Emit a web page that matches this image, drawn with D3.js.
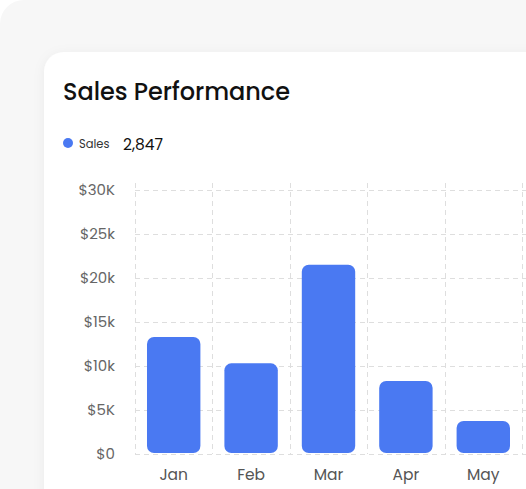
<!DOCTYPE html>
<html>
<head>
<meta charset="utf-8">
<script src="https://cdn.jsdelivr.net/npm/d3@7"></script>
<style>
  body { margin: 0; background: #fff; }
  svg { display: block; font-family: Poppins, Inter, "Noto Sans", sans-serif; }
</style>
</head>
<body>
<svg width="526" height="489"></svg>
<script>
// data
var months = ["Jan", "Feb", "Mar", "Apr", "May"];
var sales = [13300, 10300, 21500, 8300, 3750];
var yTicks = [0, 5000, 10000, 15000, 20000, 25000, 30000];
var yTickLabels = ["$0", "$5K", "$10k", "$15k", "$20k", "$25k", "$30K"];
var legendLabel = "Sales";
var legendTotal = "2,847";

var svg = d3.select("svg");

// shadow for the card
var defs = svg.append("defs");
var f = defs.append("filter").attr("id", "shadow")
    .attr("x", "-10%").attr("y", "-10%").attr("width", "130%").attr("height", "130%");
f.append("feDropShadow").attr("dx", 0).attr("dy", 2).attr("stdDeviation", 6)
    .attr("flood-color", "#000").attr("flood-opacity", 0.05);

// background panel + card
svg.append("rect").attr("x", 0).attr("y", 0).attr("width", 560).attr("height", 540)
    .attr("rx", 24).attr("fill", "#f7f7f7");
svg.append("rect").attr("x", 44).attr("y", 52).attr("width", 540).attr("height", 500)
    .attr("rx", 20).attr("fill", "#fff").attr("filter", "url(#shadow)");

// title
svg.append("text").attr("x", 63).attr("y", 100)
    .attr("font-size", 24).attr("font-weight", 500).attr("fill", "#111")
    .attr("textLength", 227).attr("lengthAdjust", "spacing")
    .text("Sales Performance");

// legend
svg.append("circle").attr("cx", 68).attr("cy", 143).attr("r", 5).attr("fill", "#4a79f2");
svg.append("text").attr("x", 79).attr("y", 147.5)
    .attr("font-size", 11.5).attr("fill", "#333").text(legendLabel);
svg.append("text").attr("x", 123).attr("y", 150)
    .attr("font-size", 15.5).attr("fill", "#111").text(legendTotal);

// scales
var x = d3.scaleBand()
    .domain(months)
    .range([135, 522])
    .paddingInner(0.31)
    .paddingOuter(0.155);

var y = d3.scaleLinear()
    .domain([0, 30000])
    .range([454, 190]);

// grid
var grid = svg.append("g").attr("stroke", "#dedede").attr("stroke-width", 1)
    .attr("stroke-dasharray", "5,4");

grid.selectAll(".hline")
    .data(yTicks)
    .enter()
    .append("line")
    .attr("class", "hline")
    .attr("x1", 135).attr("x2", 526)
    .attr("y1", function (d) { return y(d) + 0.5; })
    .attr("y2", function (d) { return y(d) + 0.5; });

var step = x.step();
var vx = months.map(function (m) { return x(m) - step * x.paddingInner() / 2; });
vx.push(vx[vx.length - 1] + step);

grid.selectAll(".vline")
    .data(vx)
    .enter()
    .append("line")
    .attr("class", "vline")
    .attr("x1", function (d) { return Math.round(d) + 0.5; })
    .attr("x2", function (d) { return Math.round(d) + 0.5; })
    .attr("y1", 183).attr("y2", 454);

// y labels
svg.append("g").selectAll("text")
    .data(yTicks)
    .enter()
    .append("text")
    .attr("x", 115)
    .attr("y", function (d) { return y(d); })
    .attr("dy", "0.36em")
    .attr("text-anchor", "end")
    .attr("font-size", 15)
    .attr("fill", "#666")
    .text(function (d, i) { return yTickLabels[i]; });

// bars
svg.append("g").selectAll("rect")
    .data(sales)
    .enter()
    .append("rect")
    .attr("x", function (d, i) { return x(months[i]); })
    .attr("y", function (d) { return y(d); })
    .attr("width", x.bandwidth())
    .attr("height", function (d) { return y(0) - y(d) - 1; })
    .attr("rx", 7)
    .attr("fill", "#4a79f2");

// x labels
svg.append("g").selectAll("text")
    .data(months)
    .enter()
    .append("text")
    .attr("x", function (d) { return x(d) + x.bandwidth() / 2; })
    .attr("y", 480)
    .attr("text-anchor", "middle")
    .attr("font-size", 15.5)
    .attr("fill", "#555")
    .text(function (d) { return d; });
</script>
</body>
</html>
